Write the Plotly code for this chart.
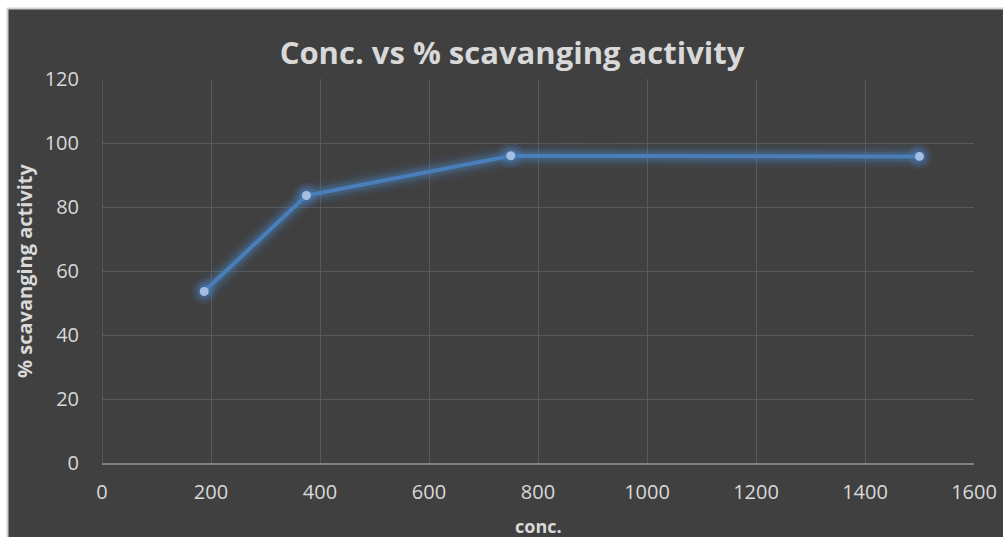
import plotly.graph_objects as go

# Scavenging activity by concentration
conc = [187.5, 375, 750, 1500]
scavenging = [53.6, 83.6, 96.0, 95.8]

x_ticks = [0, 200, 400, 600, 800, 1000, 1200, 1400, 1600]
y_ticks = [0, 20, 40, 60, 80, 100, 120]

W, H = 1003, 537
L, R, T, B = 102, 29, 79, 74
PW, PH = W - L - R, H - T - B

BG = "#404040"
LINE = "#4a7ebb"
TEXT = "#d9d9d9"
FONT = "Open Sans"


def px_x(p):
    return (p - L) / PW


def px_y(p):
    return (H - B - p) / PH


fig = go.Figure()

# soft glow under the series line
for width, alpha in [(24, 0.07), (18, 0.10), (13, 0.15), (9, 0.22)]:
    fig.add_trace(go.Scatter(
        x=conc, y=scavenging, mode="lines",
        line=dict(color=f"rgba(74,126,187,{alpha})", width=width),
        hoverinfo="skip", showlegend=False,
    ))
for size, alpha in [(26, 0.12), (20, 0.2), (14, 0.3)]:
    fig.add_trace(go.Scatter(
        x=conc, y=scavenging, mode="markers",
        marker=dict(color=f"rgba(74,126,187,{alpha})", size=size, line=dict(width=0)),
        hoverinfo="skip", showlegend=False,
    ))

fig.add_trace(go.Scatter(
    x=conc, y=scavenging, mode="lines+markers",
    line=dict(color=LINE, width=4),
    marker=dict(color="#a4bde3", size=9, line=dict(width=0)),
    showlegend=False,
))

fig.update_layout(
    width=W, height=H,
    margin=dict(l=L, r=R, t=T, b=B, autoexpand=False),
    paper_bgcolor=BG, plot_bgcolor=BG,
    font=dict(family=FONT, color=TEXT),
    title=dict(
        text="<b>Conc. vs % scavanging activity</b>",
        x=512 / W, xref="container", xanchor="center",
        y=1 - 53 / H, yanchor="middle",
        font=dict(size=31, color=TEXT, family=FONT),
    ),
    xaxis=dict(
        range=[0, 1600], tickvals=x_ticks, ticktext=[str(v) for v in x_ticks],
        automargin=False,
        showgrid=True, gridcolor="#595959", gridwidth=1,
        zeroline=False, showline=True, linecolor="#808080", linewidth=1.5,
        ticks="outside", ticklen=10, tickcolor=BG,
        tickfont=dict(size=20, color=TEXT),
    ),
    yaxis=dict(
        range=[0, 120], tickvals=y_ticks, ticktext=[str(v) for v in y_ticks],
        automargin=False,
        showgrid=True, gridcolor="#595959", gridwidth=1,
        zeroline=False, showline=False,
        ticks="outside", ticklen=18, tickcolor=BG,
        tickfont=dict(size=20, color=TEXT),
        title=dict(text="<b>% scavanging activity</b>", font=dict(size=20, color=TEXT), standoff=6),
    ),
)

# x-axis title placed just above the bottom edge
fig.add_annotation(
    text="<b>conc.</b>", xref="paper", yref="paper",
    x=0.5, y=px_y(526), xanchor="center", yanchor="middle",
    showarrow=False, font=dict(size=18, color=TEXT, family=FONT),
)

# left edge of the plot frame, same tone as the grid
fig.add_shape(type="line", xref="x", yref="paper", x0=0, x1=0, y0=0, y1=1,
              line=dict(color="#6a6a6a", width=1))

# page edge: white strip with a thin grey rule on the top and left
fig.add_shape(type="rect", xref="paper", yref="paper",
              x0=px_x(-5), x1=px_x(W + 5), y0=px_y(8), y1=px_y(-5),
              fillcolor="white", line=dict(width=0), layer="above")
fig.add_shape(type="rect", xref="paper", yref="paper",
              x0=px_x(-5), x1=px_x(7), y0=px_y(H + 5), y1=px_y(-5),
              fillcolor="white", line=dict(width=0), layer="above")
fig.add_shape(type="line", xref="paper", yref="paper",
              x0=px_x(7), x1=px_x(W + 5), y0=px_y(8.5), y1=px_y(8.5),
              line=dict(color="#d0d0d0", width=2), layer="above")
fig.add_shape(type="line", xref="paper", yref="paper",
              x0=px_x(7.5), x1=px_x(7.5), y0=px_y(H + 5), y1=px_y(8),
              line=dict(color="#d0d0d0", width=2), layer="above")

fig.write_html("out.html")
